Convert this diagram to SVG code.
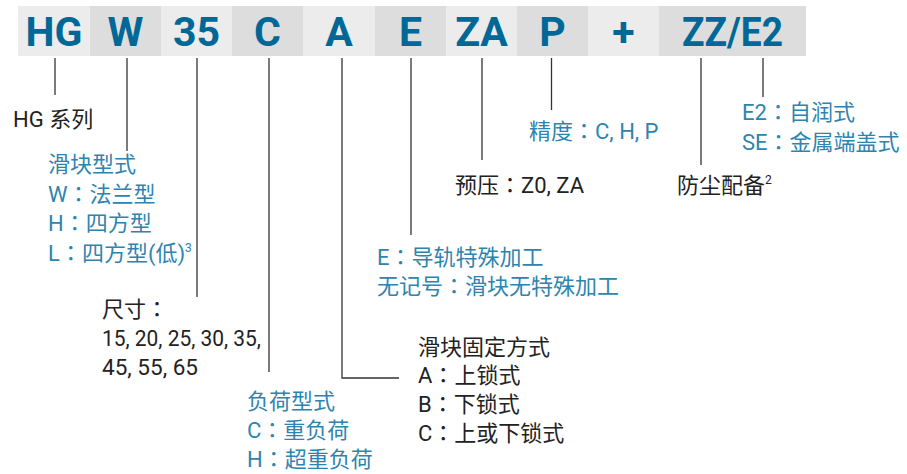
<svg xmlns="http://www.w3.org/2000/svg" width="907" height="474" viewBox="0 0 907 474">
<style>
.l{fill:#ececec}.d{fill:#dcdddc}
.h{font-family:Roboto,"Noto Sans CJK SC",sans-serif;font-weight:bold;font-size:41px;fill:#006896;text-anchor:middle}
.t{font-family:Roboto,"Noto Sans CJK SC",sans-serif;font-size:22px}
.k{fill:#222}.b{fill:#2e84b0}
.s{font-size:12px}
.q{font-family:"Noto Sans CJK TC",sans-serif}
.c{stroke:#333;stroke-width:1.3;fill:none}
</style>
<rect width="907" height="474" fill="#fff"/>
<g id="header">
<g id="cell-HG"><rect class="l" x="18" y="6" width="72" height="50"/><text class="h" x="54" y="46">HG</text></g>
<g id="cell-W"><rect class="d" x="90" y="6" width="71" height="50"/><text class="h" x="125.5" y="46">W</text></g>
<g id="cell-35"><rect class="l" x="161" y="6" width="71" height="50"/><text class="h" x="196.5" y="46">35</text></g>
<g id="cell-C"><rect class="d" x="232" y="6" width="71" height="50"/><text class="h" x="267.5" y="46">C</text></g>
<g id="cell-A"><rect class="l" x="303" y="6" width="72" height="50"/><text class="h" x="339" y="46">A</text></g>
<g id="cell-E"><rect class="d" x="375" y="6" width="71" height="50"/><text class="h" x="410.5" y="46">E</text></g>
<g id="cell-ZA"><rect class="l" x="446" y="6" width="71" height="50"/><text class="h" x="481.5" y="46">ZA</text></g>
<g id="cell-P"><rect class="d" x="517" y="6" width="71" height="50"/><text class="h" x="552.5" y="46">P</text></g>
<g id="cell-plus"><rect class="l" x="588" y="6" width="71" height="50"/><text class="h" x="623.5" y="46">+</text></g>
<g id="cell-ZZE2"><rect class="d" x="659" y="6" width="147" height="50"/><text class="h" x="732.5" y="46" textLength="101" lengthAdjust="spacingAndGlyphs">ZZ/E2</text></g>
</g>
<g id="connectors">
<path class="c" d="M55 58V95"/>
<path class="c" d="M127 58V151"/>
<path class="c" d="M197 58V297"/>
<path class="c" d="M269 58V372"/>
<path class="c" d="M342 58V378H399"/>
<path class="c" d="M411 58V235"/>
<path class="c" d="M482 58V160"/>
<path class="c" d="M551.5 58V110"/>
<path class="c" d="M701 58V165"/>
<path class="c" d="M763 58V97"/>
</g>
<g id="label-series"><text class="t k" x="13" y="127">HG 系列</text></g>
<g id="label-blocktype">
<text class="t b" x="48" y="172">滑块型式</text>
<text class="t b" x="48" y="201.5">W<tspan class="q">：</tspan>法兰型</text>
<text class="t b" x="48" y="231">H<tspan class="q">：</tspan>四方型</text>
<text class="t b" x="48" y="260.5">L<tspan class="q">：</tspan>四方型(低)<tspan class="s" dy="-9">3</tspan></text>
</g>
<g id="label-size">
<text class="t k" x="102" y="317">尺寸<tspan class="q">：</tspan></text>
<text class="t k" x="102" y="346" textLength="159" lengthAdjust="spacingAndGlyphs">15, 20, 25, 30, 35,</text>
<text class="t k" x="102" y="375" textLength="96" lengthAdjust="spacingAndGlyphs">45, 55, 65</text>
</g>
<g id="label-load">
<text class="t b" x="247" y="409">负荷型式</text>
<text class="t b" x="247" y="438">C<tspan class="q">：</tspan>重负荷</text>
<text class="t b" x="247" y="467">H<tspan class="q">：</tspan>超重负荷</text>
</g>
<g id="label-mount">
<text class="t k" x="418" y="354.5">滑块固定方式</text>
<text class="t k" x="418" y="383">A<tspan class="q">：</tspan>上锁式</text>
<text class="t k" x="418" y="412">B<tspan class="q">：</tspan>下锁式</text>
<text class="t k" x="418" y="441">C<tspan class="q">：</tspan>上或下锁式</text>
</g>
<g id="label-rail">
<text class="t b" x="377" y="265">E<tspan class="q">：</tspan>导轨特殊加工</text>
<text class="t b" x="377" y="294">无记号<tspan class="q">：</tspan>滑块无特殊加工</text>
</g>
<g id="label-preload"><text class="t k" x="455" y="193">预压<tspan class="q">：</tspan>Z0, ZA</text></g>
<g id="label-accuracy"><text class="t b" x="529" y="139">精度<tspan class="q">：</tspan>C, H, P</text></g>
<g id="label-dust"><text class="t k" x="677" y="193">防尘配备<tspan class="s" dy="-9">2</tspan></text></g>
<g id="label-lube">
<text class="t b" x="742" y="120">E2<tspan class="q">：</tspan>自润式</text>
<text class="t b" x="742" y="150">SE<tspan class="q">：</tspan>金属端盖式</text>
</g>
</svg>
